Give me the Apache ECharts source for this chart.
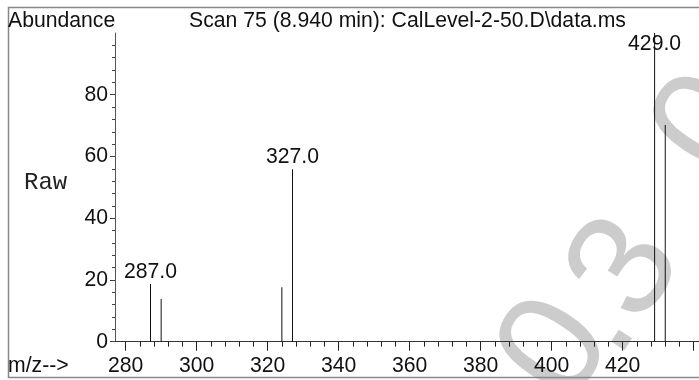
<!DOCTYPE html>
<html><head><meta charset="utf-8">
<script src="https://cdn.jsdelivr.net/npm/echarts@6/dist/echarts.min.js"></script>
<style>html,body{margin:0;padding:0;background:#fff}#c{width:699px;height:380px}</style>
</head><body><div id="c"></div>
<script>
// ---- data ----
const mzValues = [287, 290, 324, 327, 429, 432];
const abundance = [18.7, 13.8, 17.6, 55.9, 100, 70.2];
const labeledPeaks = [287, 327, 429];
const xMajorTicks = [280, 300, 320, 340, 360, 380, 400, 420, 440];
const xTickLabels = [280, 300, 320, 340, 360, 380, 400, 420];
const yTickLabels = [0, 20, 40, 60, 80];
const titleText = 'Scan 75 (8.940 min): CalLevel-2-50.D\\data.ms';
const yAxisName = 'Abundance';
const xAxisName = 'm/z-->';
const modeText = 'Raw';
const watermarkTexts = ['0', '.', '3', '0'];

// ---- minor tick positions (axis decoration) ----
const xMinor = []; for (let v = 280; v <= 444; v += 4) xMinor.push(v);
const yMinor = []; for (let v = 0; v <= 96; v += 4) yMinor.push(v);

const FONT = 'Liberation Sans, Arial, Helvetica, sans-serif';
const FS = 21.2;
const chart = echarts.init(document.getElementById('c'), null, {renderer: 'canvas'});

const wmPos = [[558, 350], [594, 322], [627.6, 270.2], [712, 126]];
const wmRot = 57 * Math.PI / 180;

const option = {
  backgroundColor: '#fff',
  animation: false,
  grid: {left: 115, top: 33, width: 603.5, height: 308.7, containLabel: false, outerBoundsMode: 'none'},
  xAxis: [
    {type: 'value', min: 277, max: 447, position: 'bottom',
     axisLine: {show: true, onZero: false, lineStyle: {color: '#333', width: 1}},
     axisTick: {show: true, customValues: xMajorTicks, length: 9, lineStyle: {color: '#222'}},
     axisLabel: {show: true, customValues: xTickLabels, fontSize: FS, fontFamily: FONT, color: '#111', margin: 14},
     splitLine: {show: false}},
    {type: 'value', min: 277, max: 447, position: 'bottom', gridIndex: 0,
     axisLine: {show: false},
     axisTick: {show: true, customValues: xMinor, length: 5, lineStyle: {color: '#222'}},
     axisLabel: {show: false}, splitLine: {show: false}}
  ],
  yAxis: [
    {type: 'value', min: 0, max: 100, position: 'left',
     axisLine: {show: true, onZero: false, lineStyle: {color: '#555', width: 1}},
     axisTick: {show: true, customValues: yTickLabels, length: 5, lineStyle: {color: '#333'}},
     axisLabel: {show: true, customValues: yTickLabels, fontSize: FS, fontFamily: FONT, color: '#111', margin: 7},
     splitLine: {show: false}},
    {type: 'value', min: 0, max: 100, position: 'left',
     axisLine: {show: false},
     axisTick: {show: true, customValues: yMinor, length: 3, lineStyle: {color: '#444'}},
     axisLabel: {show: false}, splitLine: {show: false}}
  ],
  series: [{
    type: 'bar', xAxisIndex: 0, yAxisIndex: 0, barWidth: 1, z: 5,
    itemStyle: {color: '#111'},
    data: mzValues.map((m, i) => ({
      value: [m, abundance[i]],
      label: {
        show: labeledPeaks.includes(m),
        position: 'top', distance: 1,
        offset: m === 429 ? [0, 23] : [0, 0],
        formatter: m.toFixed(1),
        fontSize: FS, fontFamily: FONT, color: '#111'
      }
    }))
  }],
  graphic: [
    {type: 'rect', z: 1, silent: true,
     shape: {x: 8.5, y: 7.5, width: 720, height: 370},
     style: {fill: 'none', stroke: '#888', lineWidth: 1.5}},
    ...watermarkTexts.map((g, i) => ({
      type: 'text', z: -10, silent: true,
      x: wmPos[i][0], y: wmPos[i][1], rotation: wmRot,
      style: {text: g, fill: '#cccccc', font: '148px ' + FONT, align: 'center', verticalAlign: 'middle'}
    })),
    {type: 'text', z: 10, x: 8, y: 21,
     style: {text: yAxisName, fill: '#111', font: FS + 'px ' + FONT, align: 'left', verticalAlign: 'middle'}},
    {type: 'text', z: 10, x: 407.5, y: 21,
     style: {text: titleText, fill: '#111', font: FS + 'px ' + FONT, align: 'center', verticalAlign: 'middle'}},
    {type: 'text', z: 10, x: 8, y: 366,
     style: {text: xAxisName, fill: '#111', font: FS + 'px ' + FONT, align: 'left', verticalAlign: 'middle'}},
    {type: 'text', z: 10, x: 24, y: 183,
     style: {text: modeText, fill: '#222', font: '24px Liberation Mono, Courier New, monospace', align: 'left', verticalAlign: 'middle'}}
  ]
};
chart.setOption(option);
</script>
</body></html>
